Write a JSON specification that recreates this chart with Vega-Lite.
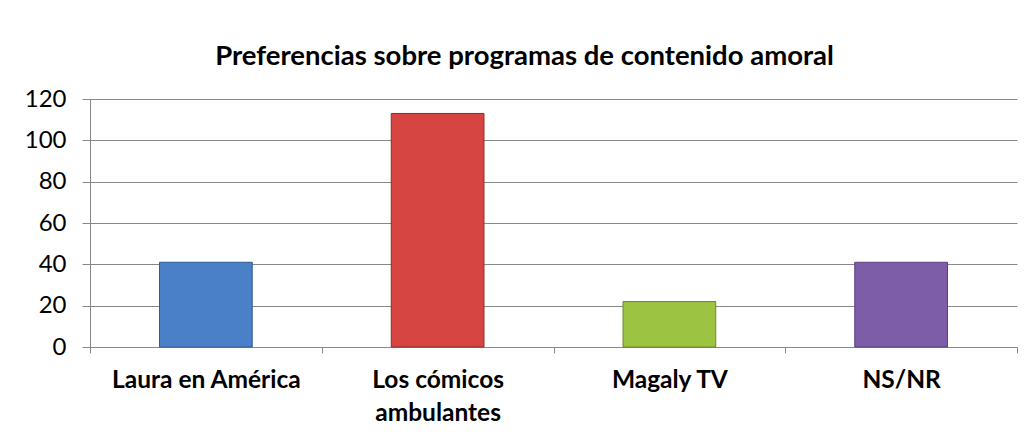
{
  "$schema": "https://vega.github.io/schema/vega-lite/v6.json",
  "width": 927,
  "height": 248,
  "autosize": {"type": "none"},
  "padding": {"left": 90, "top": 99, "right": 16, "bottom": 92},
  "background": "white",
  "title": {
    "text": "Preferencias sobre programas de contenido amoral",
    "font": "Lato",
    "fontSize": 27.5,
    "fontWeight": "bold",
    "color": "#000000",
    "anchor": "middle",
    "offset": 17,
    "dx": -29
  },
  "data": {
    "values": [
      {"programa": "Laura en América", "valor": 41},
      {"programa": "Los cómicos ambulantes", "valor": 113},
      {"programa": "Magaly TV", "valor": 22},
      {"programa": "NS/NR", "valor": 41}
    ]
  },
  "mark": {"type": "bar", "strokeWidth": 1, "width": {"band": 0.4}},
  "encoding": {
    "x": {
      "field": "programa",
      "type": "nominal",
      "sort": null,
      "scale": {"paddingInner": 0, "paddingOuter": 0},
      "axis": {
        "title": null,
        "labelAngle": 0,
        "labelFont": "Lato",
        "labelFontSize": 24.5,
        "labelFontWeight": "bold",
        "labelColor": "#000000",
        "labelLineHeight": 33,
        "labelPadding": 15,
        "labelLimit": 0,
        "ticks": true,
        "tickBand": "extent",
        "tickSize": 6,
        "tickWidth": 1,
        "tickColor": "#888888",
        "domainColor": "#888888",
        "labelExpr": "datum.value == 'Los cómicos ambulantes' ? ['Los cómicos', 'ambulantes'] : datum.value"
      }
    },
    "y": {
      "field": "valor",
      "type": "quantitative",
      "scale": {"domain": [0, 120]},
      "axis": {
        "title": null,
        "values": [0, 20, 40, 60, 80, 100, 120],
        "labelFont": "Lato",
        "labelFontSize": 24,
        "labelColor": "#000000",
        "labelPadding": 16,
        "tickSize": 8,
        "tickColor": "#888888",
        "gridColor": "#888888",
        "domainColor": "#888888"
      }
    },
    "color": {
      "field": "programa",
      "type": "nominal",
      "sort": null,
      "scale": {
        "domain": ["Laura en América", "Los cómicos ambulantes", "Magaly TV", "NS/NR"],
        "range": ["#4a80c8", "#d64541", "#9cc341", "#7d5ca8"]
      },
      "legend": null
    },
    "stroke": {
      "field": "programa",
      "type": "nominal",
      "sort": null,
      "scale": {
        "domain": ["Laura en América", "Los cómicos ambulantes", "Magaly TV", "NS/NR"],
        "range": ["#2e5a93", "#8e2b28", "#6a8a2a", "#5a3f80"]
      },
      "legend": null
    }
  },
  "config": {"view": {"stroke": null}}
}
